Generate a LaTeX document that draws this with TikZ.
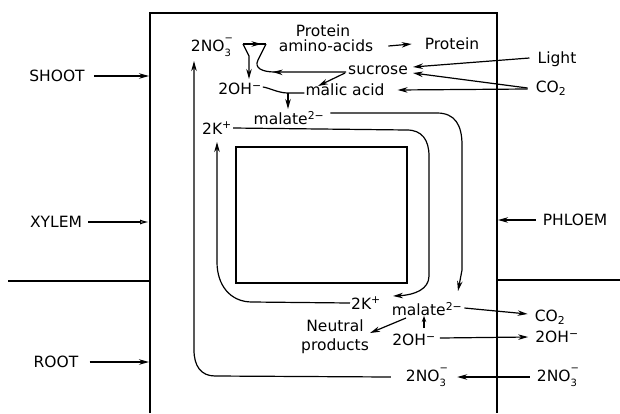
\documentclass[tikz,border=0pt]{standalone}
\usepackage{fontspec}
\setmainfont{DejaVu Sans}
\usetikzlibrary{arrows.meta,decorations.markings}
\newcommand\nitr{2NO\raisebox{-0.5ex}{\rlap{\fontsize{10}{10}\selectfont 3}}\raisebox{1.25ex}{\fontsize{10}{10}\selectfont −}}
\begin{document}
\begin{tikzpicture}[x=1pt,y=-1pt,
  lbl/.style={inner sep=1pt, font=\fontsize{15.5}{19}\selectfont},
  ln/.style={line width=1.2pt},
  arr/.style={ln, -{Stealth[length=10pt,width=5.5pt]}},
  sarr/.style={ln, -{Stealth[length=6pt,width=4.5pt]}},
  oarr/.style={ln, -{Latex[open,length=9pt,width=5pt]}},
  wall/.style={line width=1.6pt},
  midarr/.style={ln, postaction=decorate, decoration={markings, mark=at position #1 with {\arrow{Stealth[length=10pt,width=5.5pt]}}}},
  midrev/.style={ln, postaction=decorate, decoration={markings, mark=at position #1 with {\arrowreversed{Stealth[length=10pt,width=5.5pt]}}}}
]
\useasboundingbox (0,0) rectangle (620,413);

% walls
\draw[wall] (150,413) -- (150,13) -- (497,13) -- (497,413);
\draw[ln] (8,281) -- (150,281);
\draw[ln] (497,280) -- (620,280);
\draw[wall] (236,147) rectangle (407,283);

% wall coordinates
\coordinate (wShoot) at (149,76);
\coordinate (wXylem) at (149,222);
\coordinate (wRoot) at (149,362);
\coordinate (wPhloem) at (498,220);

% labels
\node[lbl] (shoot) at (57,76) {SHOOT};
\node[lbl] (xylem) at (56,222) {XYLEM};
\node[lbl] (root) at (56,362) {ROOT};
\node[lbl] (phloem) at (575,220) {PHLOEM};
\node[lbl] (no3a) at (212,47) {\nitr};
\node[lbl] (protA) at (323,31) {Protein};
\node[lbl] (amino) at (326,46) {amino-acids};
\node[lbl] (protB) at (452,44) {Protein};
\node[lbl] (sucrose) at (378,70) {sucrose};
\node[lbl] (light) at (557,59) {Light};
\node[lbl] (co2a) at (551,88) {CO\textsubscript{2}};
\node[lbl] (malic) at (345,90) {malic acid};
\node[lbl] (oh1) at (240,89) {2OH\textsuperscript{−}};
\node[lbl] (mal1) at (289,118) {malate\textsuperscript{2−}};
\node[lbl] (k1) at (217,128) {2K\textsuperscript{+}};
\node[lbl] (k2) at (366,303) {2K\textsuperscript{+}};
\node[lbl] (mal2) at (427,309) {malate\textsuperscript{2−}};
\node[lbl] (co2b) at (550,317) {CO\textsubscript{2}};
\node[lbl, align=center] (neutral) at (335,337) {Neutral\\products};
\node[lbl] (oh2) at (414,340) {2OH\textsuperscript{−}};
\node[lbl] (oh3) at (557,337) {2OH\textsuperscript{−}};
\node[lbl] (no3b) at (427,377) {\nitr};
\node[lbl] (no3c) at (558,377) {\nitr};

% side arrows
\draw[arr] ([xshift=8pt]shoot.east) -- (wShoot);
\draw[oarr] ([xshift=5pt]xylem.east) -- (wXylem);
\draw[arr] ([xshift=10pt]root.east) -- (wRoot);
\draw[arr] ([xshift=-6pt]phloem.west) -- (wPhloem);

% shoot reactions
\draw[midarr=0.8] (243,44) -- (266,44);
\draw[midrev=0.36] (266,44) -- (258,60) .. controls (254,68) and (262,72) .. (275,72) -- ([xshift=-1pt,yshift=-2pt]sucrose.west);
\draw[arr] (243,44) -- (249,56) -- (249,79);
\draw[arr] ([xshift=14pt]amino.east) -- ([xshift=-12pt]protB.west);
\coordinate (c2) at ([xshift=-7pt]co2a.west);
\draw[arr] ([xshift=-7pt,yshift=1pt]light.west) -- ([xshift=4pt,yshift=3pt]sucrose.east);
\draw[arr] (c2) -- ([xshift=4pt,yshift=-3pt]sucrose.east);
\draw[arr] ([yshift=-1pt]c2) -- ([xshift=12pt]malic.east);
\draw[arr] ([xshift=-2pt,yshift=-3pt]sucrose.west) -- (318,86);
\draw[ln] ([yshift=2pt]oh1.east) .. controls (270,88) and (278,93) .. (288,93) -- ([yshift=-3pt]malic.west);
\draw[arr] (288,93) -- (288,109);

% K+ loop
\draw[arr] (k1.east) -- (407,130) .. controls (422,130) and (429,140) .. (429,156) -- (429,276) .. controls (429,289) and (415,295) .. (393,296);
\draw[arr] (k2.west) -- (252,302) .. controls (230,302) and (217,285) .. (217,262) -- (217,142);

% malate loop
\draw[arr] ([xshift=5pt,yshift=5pt]mal1.east) -- (437,113) .. controls (455,113) and (462,125) .. (462,145) -- (462,270) -- (458,291);

% nitrate loop
\draw[arr] ([xshift=-14pt]no3b.west) -- (215,376) .. controls (201,376) and (194,366) .. (194,350) -- (194,61);

% root reactions
\draw[arr] ([xshift=1pt,yshift=1pt]mal2.east) -- ([xshift=-6pt,yshift=3pt]co2b.west);
\draw[arr] ([xshift=3pt,yshift=2pt]oh2.east) -- ([xshift=-6pt]oh3.west);
\draw[sarr] (424,328) -- (424,316);
\draw[arr] (406,318) -- ([yshift=4pt]neutral.east);
\draw[arr] ([xshift=-6pt]no3c.west) -- ([xshift=8pt]no3b.east);
\end{tikzpicture}
\end{document}
